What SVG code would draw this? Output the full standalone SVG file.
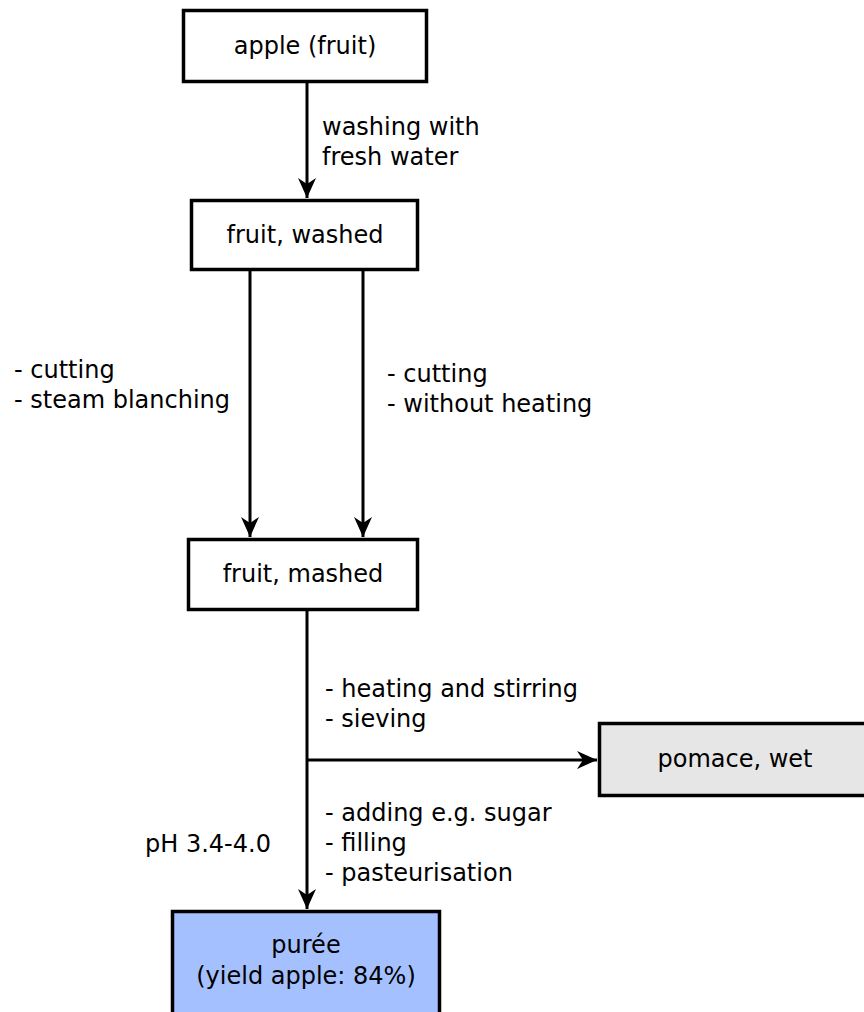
<svg xmlns="http://www.w3.org/2000/svg" width="864" height="1012" viewBox="0 0 864 1012">
  <style>
    .box { fill: #ffffff; stroke: #000000; stroke-width: 3.5; }
    .waste { fill: #e6e6e6; }
    .product { fill: #a4c0ff; }
    .lbl { font-family: "DejaVu Sans", "Liberation Sans", sans-serif; font-size: 24px; fill: #000000; }
    .mid { text-anchor: middle; }
    .edge { fill: none; stroke: #000000; stroke-width: 3; }
  </style>
  <defs>
    <marker id="arrow" viewBox="-22 -11 24 22" refX="0" refY="0" markerWidth="24" markerHeight="22" markerUnits="userSpaceOnUse" orient="auto">
      <path d="M-20,-9 L0,0 L-20,9 L-14,0 Z" fill="#000000"/>
    </marker>
  </defs>
  <rect width="864" height="1012" fill="#ffffff"/>

  <!-- connectors and their step labels -->
  <g id="connectors">
    <path class="edge" d="M307,82 V198" marker-end="url(#arrow)"/>
    <path class="edge" d="M250,270 V537" marker-end="url(#arrow)"/>
    <path class="edge" d="M363,270 V537" marker-end="url(#arrow)"/>
    <path class="edge" d="M307,610 V909" marker-end="url(#arrow)"/>
    <path class="edge" d="M307,760 H597" marker-end="url(#arrow)"/>

    <text class="lbl" x="322" y="135">washing with</text>
    <text class="lbl" x="322" y="165">fresh water</text>

    <text class="lbl" x="14" y="378">- cutting</text>
    <text class="lbl" x="14" y="408">- steam blanching</text>

    <text class="lbl" x="387" y="382">- cutting</text>
    <text class="lbl" x="387" y="412">- without heating</text>

    <text class="lbl" x="325" y="697">- heating and stirring</text>
    <text class="lbl" x="325" y="727">- sieving</text>

    <text class="lbl" x="325" y="821">- adding e.g. sugar</text>
    <text class="lbl" x="325" y="851">- filling</text>
    <text class="lbl" x="325" y="881">- pasteurisation</text>

    <text class="lbl" x="145" y="852">pH 3.4-4.0</text>
  </g>

  <g id="apple">
    <rect class="box" x="183.5" y="10.5" width="243" height="71"/>
    <text class="lbl mid" x="305" y="54">apple (fruit)</text>
  </g>

  <g id="washed">
    <rect class="box" x="191.5" y="200.5" width="226" height="69"/>
    <text class="lbl mid" x="305" y="243">fruit, washed</text>
  </g>

  <g id="mashed">
    <rect class="box" x="188.5" y="539.5" width="229" height="70"/>
    <text class="lbl mid" x="303" y="582">fruit, mashed</text>
  </g>

  <g id="pomace">
    <rect class="box waste" x="599.5" y="723.5" width="280" height="72"/>
    <text class="lbl mid" x="735" y="767">pomace, wet</text>
  </g>

  <g id="puree">
    <rect class="box product" x="172.5" y="911.5" width="267" height="110"/>
    <text class="lbl mid" x="306" y="953">purée</text>
    <text class="lbl mid" x="306" y="984">(yield apple: 84%)</text>
  </g>
</svg>
